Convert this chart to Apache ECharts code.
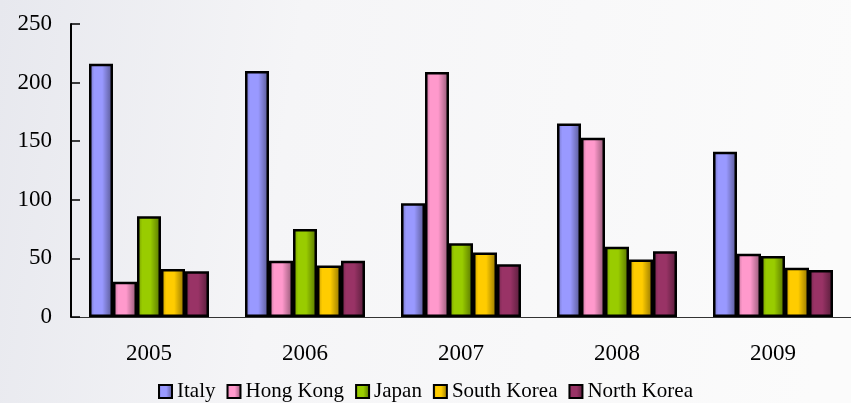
<!DOCTYPE html>
<html>
<head>
<meta charset="utf-8">
<script src="https://cdn.jsdelivr.net/npm/echarts@6/dist/echarts.min.js"></script>
<style>
  html, body { margin: 0; padding: 0; }
  #chart { width: 851px; height: 403px; }
</style>
</head>
<body>
<div id="chart"></div>
<script>
// Categories and per-country values
const years = ['2005', '2006', '2007', '2008', '2009'];
const italy = [216, 210, 97, 165, 141];
const hongKong = [30, 48, 209, 153, 54];
const japan = [86, 75, 63, 60, 52];
const southKorea = [41, 44, 55, 49, 42];
const northKorea = [39, 48, 45, 56, 40];
const yTicks = { min: 0, max: 250, interval: 50 };

const seriesDefs = [
  { name: 'Italy', data: italy, color: [153, 153, 255] },
  { name: 'Hong Kong', data: hongKong, color: [255, 153, 204] },
  { name: 'Japan', data: japan, color: [153, 204, 0] },
  { name: 'South Korea', data: southKorea, color: [255, 204, 0] },
  { name: 'North Korea', data: northKorea, color: [153, 51, 102] }
];

function shade(c, f) {
  return 'rgb(' + c.map(v => Math.round(v * f)).join(',') + ')';
}

// Horizontal shading: darker edges, light band left of centre
function barFill(c) {
  return new echarts.graphic.LinearGradient(0, 0, 1, 0, [
    { offset: 0, color: shade(c, 0.72) },
    { offset: 0.22, color: shade(c, 1) },
    { offset: 0.55, color: shade(c, 1) },
    { offset: 1, color: shade(c, 0.55) }
  ]);
}

const font = 'Liberation Serif';
const chart = echarts.init(document.getElementById('chart'));

chart.setOption({
  backgroundColor: new echarts.graphic.LinearGradient(0, 0, 1, 0.3, [
    { offset: 0, color: '#e7e8ee' },
    { offset: 0.35, color: '#f5f5f7' },
    { offset: 1, color: '#fbfbfb' }
  ]),
  animation: false,
  grid: { left: 71, top: 24, right: -4, bottom: 86 },
  legend: {
    top: 376,
    left: 'center',
    icon: 'rect',
    itemWidth: 13,
    itemHeight: 13,
    itemGap: 11,
    textStyle: { fontFamily: font, fontSize: 21, color: '#000' },
    data: seriesDefs.map(s => s.name)
  },
  xAxis: {
    type: 'category',
    data: years,
    axisLine: { lineStyle: { color: '#333', width: 1 } },
    axisTick: { inside: true, length: 7, lineStyle: { color: '#000' } },
    axisLabel: { fontFamily: font, fontSize: 23, color: '#000', margin: 25 }
  },
  yAxis: {
    type: 'value',
    min: yTicks.min,
    max: yTicks.max,
    interval: yTicks.interval,
    splitLine: { show: false },
    axisLine: { show: true, lineStyle: { color: '#000', width: 2 } },
    axisTick: { show: true, inside: true, length: 9, lineStyle: { color: '#000', width: 1.5 } },
    axisLabel: { fontFamily: font, fontSize: 23, color: '#000', margin: 19 }
  },
  series: seriesDefs.map(s => ({
    name: s.name,
    type: 'bar',
    data: s.data,
    barWidth: 24,
    barGap: '0%',
    itemStyle: {
      color: barFill(s.color),
      borderColor: '#000',
      borderWidth: 2.5
    }
  }))
});
</script>
</body>
</html>
